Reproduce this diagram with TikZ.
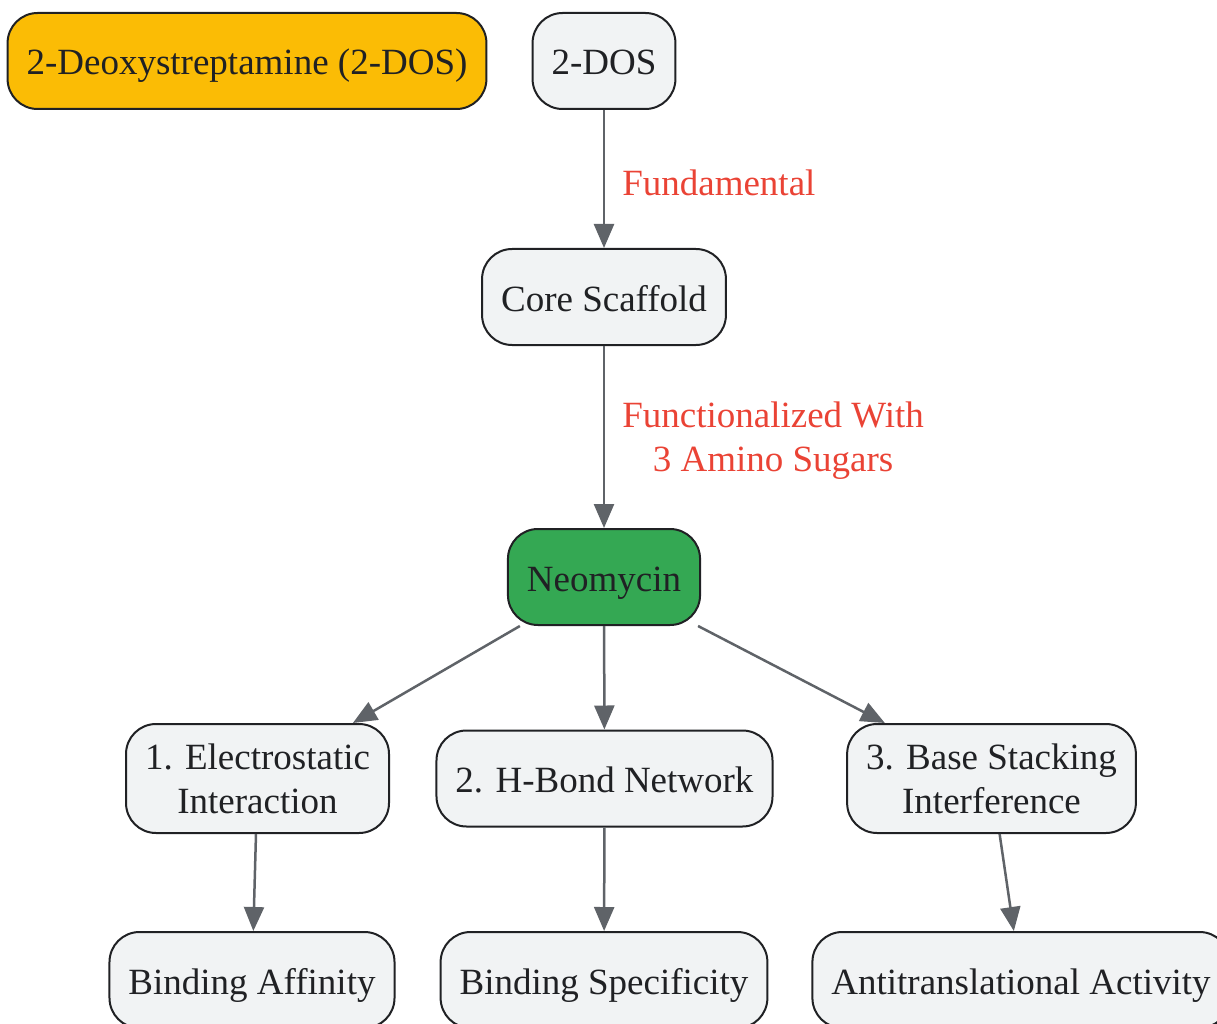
\documentclass[tikz,border=0pt]{standalone}
\usepackage{fontspec}
\setmainfont{Liberation Serif}
\usetikzlibrary{arrows.meta,positioning}
\definecolor{boxgrey}{HTML}{F1F3F4}
\definecolor{inkdark}{HTML}{202124}
\definecolor{edgegrey}{HTML}{5F6368}
\definecolor{keyyellow}{HTML}{FBBC05}
\definecolor{neogreen}{HTML}{34A853}
\definecolor{labelred}{HTML}{EA4335}
\tikzset{
  stepbox/.style={rectangle,rounded corners=30pt,draw=inkdark,line width=2pt,fill=boxgrey,
    text=inkdark,inner xsep=19pt,inner ysep=4pt,minimum height=96pt,align=center,
    text height=36pt,text depth=8pt,font=\fontsize{37}{44}\selectfont},
  twoline/.style={text height={},text depth={},minimum height=109pt},
  flow/.style={-{Triangle[length=24pt,width=20pt]},color=edgegrey,line width=2.5pt},
  flowlabel/.style={text=labelred,anchor=west,inner sep=0pt,xshift=17pt,yshift=-4pt,align=center,
    font=\fontsize{37}{44}\selectfont}
}

\begin{document}
\begin{tikzpicture}[x=1pt,y=-1pt]
\useasboundingbox (0,0) rectangle (1217,1024);
% \draw[help lines,step=100] (0,0) grid (1217,1024);
\node (key) [stepbox,fill=keyyellow] at (247,61) {2-Deoxystreptamine (2-DOS)};
\node (dos) [stepbox] at (604,61) {2-DOS};
\node (core) [stepbox] at (604,297) {Core Scaffold};
\node (neo) [stepbox,fill=neogreen] at (604,577) {Neomycin};
%
\node (elec) [stepbox,twoline] at (257.5,778.5) {1. Electrostatic\\Interaction};
\node (hbond) [stepbox] at (604.5,778.5) {2. H-Bond Network};
\node (stack) [stepbox,twoline] at (991.5,778.5) {3. Base Stacking\\Interference};
%
\node (affin) [stepbox] at (252,980) {Binding Affinity};
\node (spec) [stepbox] at (604,980) {Binding Specificity};
\node (anti) [stepbox] at (1021,980) {Antitranslational Activity};
%
\path[flow](dos) edge node[flowlabel] {Fundamental} (core);
\path[flow](core) edge node[flowlabel] {Functionalized With\\3 Amino Sugars} (neo);
\path[flow](neo) edge (elec);
\path[flow](neo) edge (hbond);
\path[flow](neo) edge (stack);
\path[flow](elec) edge (affin);
\path[flow](hbond) edge (spec);
\path[flow](stack) edge (anti);
\end{tikzpicture}
\end{document}
